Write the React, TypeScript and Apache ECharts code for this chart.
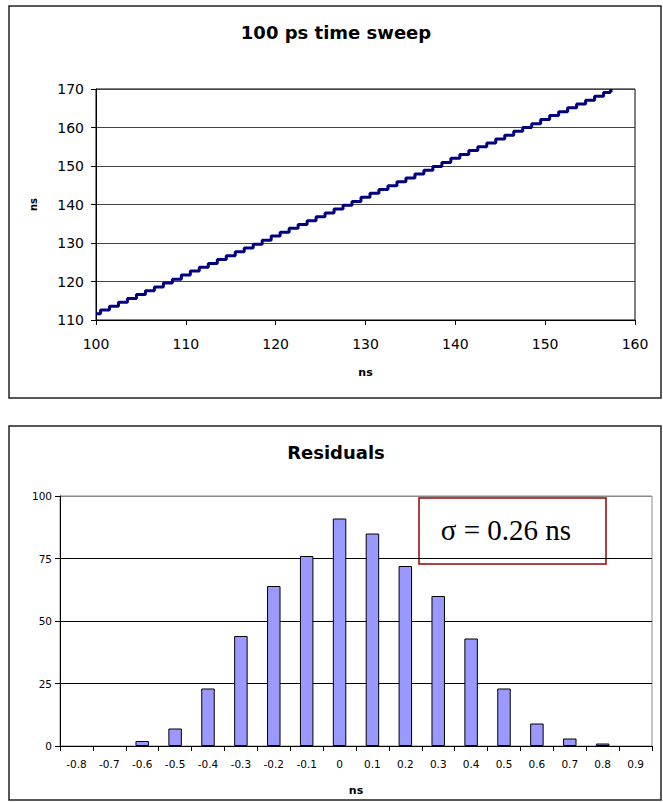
import { useEffect, useRef } from "react";
import * as echarts from "echarts";

// Top chart: 100 ps time sweep (x in ns, measured y in ns), read step by step
const sweepX = [
  100, 101, 102, 103, 104, 105, 106, 107, 108, 109,
  110, 111, 112, 113, 114, 115, 116, 117, 118, 119,
  120, 121, 122, 123, 124, 125, 126, 127, 128, 129,
  130, 131, 132, 133, 134, 135, 136, 137, 138, 139,
  140, 141, 142, 143, 144, 145, 146, 147, 148, 149,
  150, 151, 152, 153, 154, 155, 156, 157, 157.5,
];
const sweepY = [
  111.6, 112.6, 113.6, 114.6, 115.6, 116.6, 117.6, 118.6, 119.6, 120.6,
  121.7, 122.7, 123.7, 124.7, 125.7, 126.7, 127.7, 128.7, 129.7, 130.7,
  131.8, 132.8, 133.8, 134.8, 135.8, 136.8, 137.8, 138.8, 139.8, 140.8,
  141.9, 142.9, 143.9, 144.9, 145.9, 146.9, 147.9, 148.9, 149.9, 150.9,
  152.0, 153.0, 154.0, 155.0, 156.0, 157.0, 158.0, 159.0, 160.0, 161.0,
  162.1, 163.1, 164.1, 165.1, 166.1, 167.1, 168.1, 169.1, 169.6,
];

// Bottom chart: residuals histogram
const residualBins = [
  "-0.8", "-0.7", "-0.6", "-0.5", "-0.4", "-0.3", "-0.2", "-0.1", "0",
  "0.1", "0.2", "0.3", "0.4", "0.5", "0.6", "0.7", "0.8", "0.9",
];
const residualCounts = [0, 0, 2, 7, 23, 44, 64, 76, 91, 85, 72, 60, 43, 23, 9, 3, 1, 0];

const topTitle = "100 ps time sweep";
const bottomTitle = "Residuals";
const sigmaLabel = "σ = 0.26 ns";
const axisUnit = "ns";

const SANS = "DejaVu Sans";

export default function App() {
  const ref = useRef<HTMLDivElement>(null);

  useEffect(() => {
    if (!ref.current) return;
    const chart = echarts.init(ref.current, null, { renderer: "svg" });
    const sweepData = sweepX.map((x, i) => [x, sweepY[i]]);
    // empty bins draw nothing (no zero-height outline)
    const barData = residualCounts.map((v) => (v === 0 ? "-" : v));

    chart.setOption({
      animation: false,
      backgroundColor: "#ffffff",
      textStyle: { fontFamily: SANS },
      grid: [
        {
          left: 96,
          top: 89,
          width: 539,
          height: 231,
          show: true,
          borderColor: "#000",
          borderWidth: 1,
          backgroundColor: "transparent",
        },
        {
          left: 60,
          top: 496,
          width: 592,
          height: 250,
          show: true,
          borderColor: "#888",
          borderWidth: 1,
          backgroundColor: "transparent",
        },
      ],
      xAxis: [
        {
          type: "value",
          gridIndex: 0,
          min: 100,
          max: 160,
          interval: 10,
          name: axisUnit,
          nameLocation: "middle",
          nameGap: 47,
          nameTextStyle: { fontFamily: SANS, fontSize: 11, fontWeight: "bold", color: "#000" },
          axisLine: { lineStyle: { color: "#000", width: 1 } },
          axisTick: { show: true, length: 5, lineStyle: { color: "#000" } },
          axisLabel: { fontFamily: SANS, fontSize: 14, color: "#000", margin: 17 },
          splitLine: { show: false },
        },
        {
          type: "category",
          gridIndex: 1,
          data: residualBins,
          name: axisUnit,
          nameLocation: "middle",
          nameGap: 39,
          nameTextStyle: { fontFamily: SANS, fontSize: 11, fontWeight: "bold", color: "#000" },
          axisLine: { lineStyle: { color: "#000", width: 1 } },
          axisTick: { show: true, length: 5, alignWithLabel: false, lineStyle: { color: "#000" } },
          axisLabel: { fontFamily: SANS, fontSize: 10.5, color: "#000", margin: 12, interval: 0 },
          splitLine: { show: false },
        },
      ],
      yAxis: [
        {
          type: "value",
          gridIndex: 0,
          min: 110,
          max: 170,
          interval: 10,
          name: axisUnit,
          nameLocation: "middle",
          nameGap: 58,
          nameRotate: 90,
          nameTextStyle: { fontFamily: SANS, fontSize: 10, fontWeight: "bold", color: "#000" },
          axisLine: { show: true, lineStyle: { color: "#000", width: 1 } },
          axisTick: { show: true, length: 5, lineStyle: { color: "#000" } },
          axisLabel: { fontFamily: SANS, fontSize: 14, color: "#000", margin: 12 },
          splitLine: { show: true, lineStyle: { color: "#444", width: 1 } },
        },
        {
          type: "value",
          gridIndex: 1,
          min: 0,
          max: 100,
          interval: 25,
          axisLine: { show: true, lineStyle: { color: "#000", width: 1 } },
          axisTick: { show: true, length: 5, lineStyle: { color: "#000" } },
          axisLabel: { fontFamily: SANS, fontSize: 10.5, color: "#000", margin: 8 },
          splitLine: {
            show: true,
            lineStyle: { color: ["#000", "#000", "#000", "#000", "#888"], width: 1 },
          },
        },
      ],
      series: [
        {
          type: "line",
          xAxisIndex: 0,
          yAxisIndex: 0,
          data: sweepData,
          step: "middle",
          showSymbol: false,
          symbol: "none",
          lineStyle: { color: "#000080", width: 3 },
          itemStyle: { color: "#000080" },
        },
        {
          type: "bar",
          xAxisIndex: 1,
          yAxisIndex: 1,
          data: barData,
          barWidth: "41%",
          itemStyle: { color: "#9999ff", borderColor: "#000", borderWidth: 1 },
        },
      ],
      graphic: [
        {
          type: "rect",
          shape: { x: 9, y: 6, width: 652, height: 392 },
          style: { fill: "transparent", stroke: "#222", lineWidth: 1.5 },
          silent: true,
        },
        {
          type: "rect",
          shape: { x: 9, y: 426, width: 652, height: 374 },
          style: { fill: "transparent", stroke: "#222", lineWidth: 1.5 },
          silent: true,
        },
        {
          type: "text",
          x: 336,
          y: 32,
          style: {
            text: topTitle,
            fontFamily: SANS,
            fontSize: 18,
            fontWeight: "bold",
            fill: "#000",
            align: "center",
            verticalAlign: "middle",
          },
        },
        {
          type: "text",
          x: 336,
          y: 452,
          style: {
            text: bottomTitle,
            fontFamily: SANS,
            fontSize: 18,
            fontWeight: "bold",
            fill: "#000",
            align: "center",
            verticalAlign: "middle",
          },
        },
        {
          type: "rect",
          shape: { x: 419, y: 498, width: 187, height: 66 },
          style: { fill: "transparent", stroke: "#990000", lineWidth: 1.5 },
          silent: true,
        },
        {
          type: "text",
          x: 506,
          y: 530,
          style: {
            text: sigmaLabel,
            fontFamily: "Liberation Serif",
            fontSize: 29,
            fill: "#000",
            align: "center",
            verticalAlign: "middle",
          },
        },
      ],
    });

    return () => {
      chart.dispose();
    };
  }, []);

  return (
    <div
      ref={ref}
      style={{ position: "fixed", left: 0, top: 0, width: 663, height: 802, background: "#fff" }}
    />
  );
}
